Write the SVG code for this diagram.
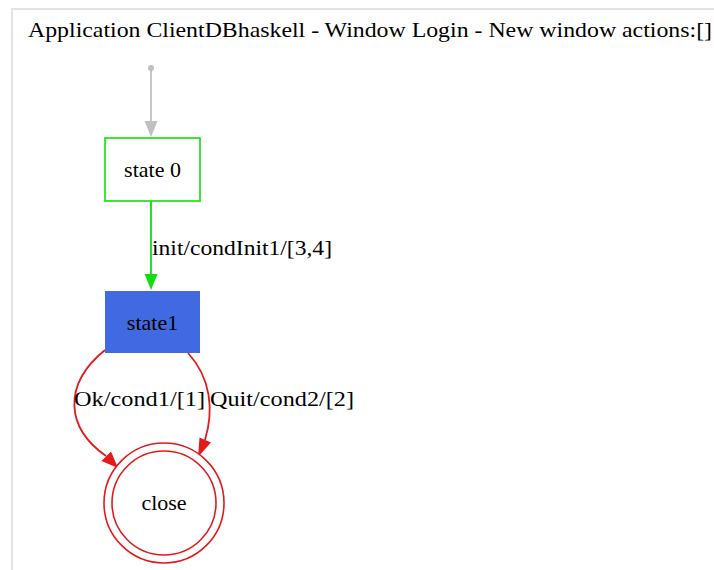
<svg xmlns="http://www.w3.org/2000/svg" width="714" height="570" viewBox="0 0 714 570">
<style>
text{font-family:"Liberation Serif","Times New Roman",serif;fill:#000}
.lbl{font-size:22px}
.edge{fill:none;stroke-width:1.8}
</style>
<rect width="714" height="570" fill="#fff"/>
<path d="M12,570 V9 H714" fill="none" stroke="#e3e3e3" stroke-width="2"/>
<text x="28" y="37" font-size="22" textLength="684" lengthAdjust="spacingAndGlyphs">Application ClientDBhaskell - Window Login - New window actions:[]</text>
<g id="connectors">
<g id="e-init">
<circle cx="151" cy="68" r="3" fill="#c0c0c0"/>
<line x1="151" y1="70" x2="151" y2="123" class="edge" stroke="#c0c0c0"/>
<polygon points="144.5,121 157.5,121 151,137" fill="#c0c0c0"/>
</g>
<g id="e-s0-s1">
<line x1="151" y1="201" x2="151" y2="276" class="edge" stroke="#11dd11"/>
<polygon points="144.5,274 157.5,274 151,290" fill="#11dd11"/>
<text class="lbl" x="152" y="255" textLength="180" lengthAdjust="spacingAndGlyphs">init/condInit1/[3,4]</text>
</g>
<g id="e-s1-close-ok">
<path d="M105,350 C62,385 66,428 106,456" class="edge" stroke="#e31a1c"/>
<polygon points="101.5,461 111,451.5 118,468" fill="#e31a1c"/>
<text class="lbl" x="74" y="406" textLength="131" lengthAdjust="spacingAndGlyphs">Ok/cond1/[1]</text>
</g>
<g id="e-s1-close-quit">
<path d="M188,353 C211,378 214,410 205,440" class="edge" stroke="#e31a1c"/>
<polygon points="211,442.5 199.5,437.5 198,457" fill="#e31a1c"/>
<text class="lbl" x="210" y="406" textLength="144" lengthAdjust="spacingAndGlyphs">Quit/cond2/[2]</text>
</g>
</g>
<g id="state0">
<rect x="105" y="138" width="95" height="63" fill="#fff" stroke="#11dd11" stroke-width="1.6"/>
<text class="lbl" x="152.5" y="177" text-anchor="middle">state 0</text>
</g>
<g id="state1">
<rect x="105" y="291" width="95" height="62" fill="#4169e1"/>
<text class="lbl" x="152.5" y="330" text-anchor="middle" fill="#111">state1</text>
</g>
<g id="close">
<circle cx="164" cy="503" r="60" fill="#fff" stroke="#e31a1c" stroke-width="1.6"/>
<circle cx="164" cy="503" r="52" fill="none" stroke="#e31a1c" stroke-width="1.6"/>
<text class="lbl" x="164" y="510" text-anchor="middle">close</text>
</g>
</svg>
